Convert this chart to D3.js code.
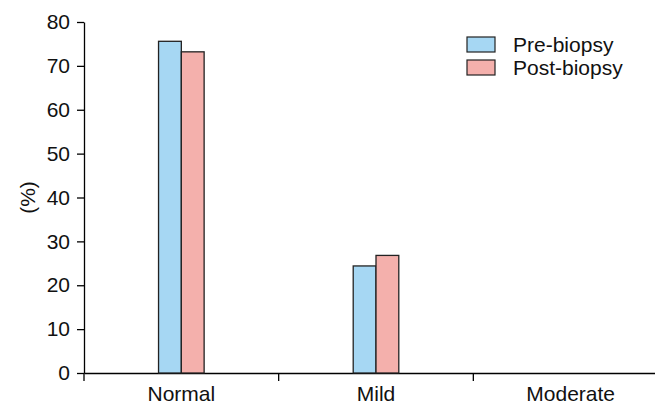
<!DOCTYPE html>
<html>
<head>
<meta charset="utf-8">
<script src="https://cdn.jsdelivr.net/npm/d3@7.9.0/dist/d3.min.js"></script>
<style>
  body { margin: 0; background: #fff; }
  svg { display: block; font-family: "Liberation Sans", Arial, sans-serif; }
</style>
</head>
<body>
<svg id="chart" width="655" height="405"></svg>
<script>
// data
const categories = ["Normal", "Mild", "Moderate"];
const seriesNames = ["Pre-biopsy", "Post-biopsy"];
const preBiopsy = [75.6, 24.4, 0];
const postBiopsy = [73.2, 26.8, 0];
const yTicks = [0, 10, 20, 30, 40, 50, 60, 70, 80];
const colors = ["#a6d7f3", "#f4b0ac"];

const svg = d3.select("#chart");
const mLeft = 84, mTop = 22, mBottom = 373, mRight = 668;
const fs = 21;

const x = d3.scaleBand().domain(categories).range([mLeft, mRight]);
const xs = d3.scaleBand().domain(seriesNames).range([0, x.bandwidth()]).paddingInner(0).paddingOuter(3.27);
const y = d3.scaleLinear().domain([0, 80]).range([mBottom, mTop]);

// y axis
const yAxis = svg.append("g")
    .attr("transform", `translate(${mLeft},0)`)
    .call(d3.axisLeft(y).tickValues(yTicks).tickSize(7).tickPadding(7).tickSizeOuter(0));
yAxis.select(".domain").attr("stroke", "#000").attr("stroke-width", 1.3);
yAxis.selectAll(".tick line").attr("stroke-width", 1.3);
yAxis.selectAll("text").attr("font-size", fs).attr("fill", "#111");

// x axis
const xAxis = svg.append("g")
    .attr("transform", `translate(0,${mBottom})`)
    .call(d3.axisBottom(x).tickSize(0).tickPadding(13).tickSizeOuter(0));
xAxis.select(".domain").attr("stroke", "#000").attr("stroke-width", 1.3);
xAxis.selectAll("text").attr("font-size", fs).attr("fill", "#111");
// tick marks at band boundaries
xAxis.selectAll(".bound")
    .data(categories)
    .join("line")
    .attr("class", "bound")
    .attr("x1", d => x(d)).attr("x2", d => x(d))
    .attr("y1", 0).attr("y2", 8)
    .attr("stroke", "#000").attr("stroke-width", 1.3);

// y label
svg.append("text")
    .attr("transform", `translate(35,${(mTop + mBottom) / 2}) rotate(-90)`)
    .attr("text-anchor", "middle")
    .attr("font-size", fs)
    .attr("fill", "#111")
    .text("(%)");

// bars
const series = [preBiopsy, postBiopsy];
series.forEach((vals, si) => {
    svg.append("g").selectAll("rect")
        .data(categories.map((c, i) => ({ c, v: vals[i] })).filter(d => d.v > 0))
        .join("rect")
        .attr("x", d => x(d.c) + xs(seriesNames[si]))
        .attr("y", d => y(d.v))
        .attr("width", xs.bandwidth())
        .attr("height", d => mBottom - y(d.v))
        .attr("fill", colors[si])
        .attr("stroke", "#222")
        .attr("stroke-width", 1.3);
});

// legend
const legend = svg.append("g").attr("transform", "translate(467,37)");
seriesNames.forEach((name, i) => {
    const g = legend.append("g").attr("transform", `translate(0,${i * 23})`);
    g.append("rect")
        .attr("width", 28).attr("height", 15)
        .attr("fill", colors[i]).attr("stroke", "#222").attr("stroke-width", 1.2);
    g.append("text")
        .attr("x", 46).attr("y", 15)
        .attr("font-size", fs).attr("fill", "#111")
        .text(name);
});
</script>
</body>
</html>
